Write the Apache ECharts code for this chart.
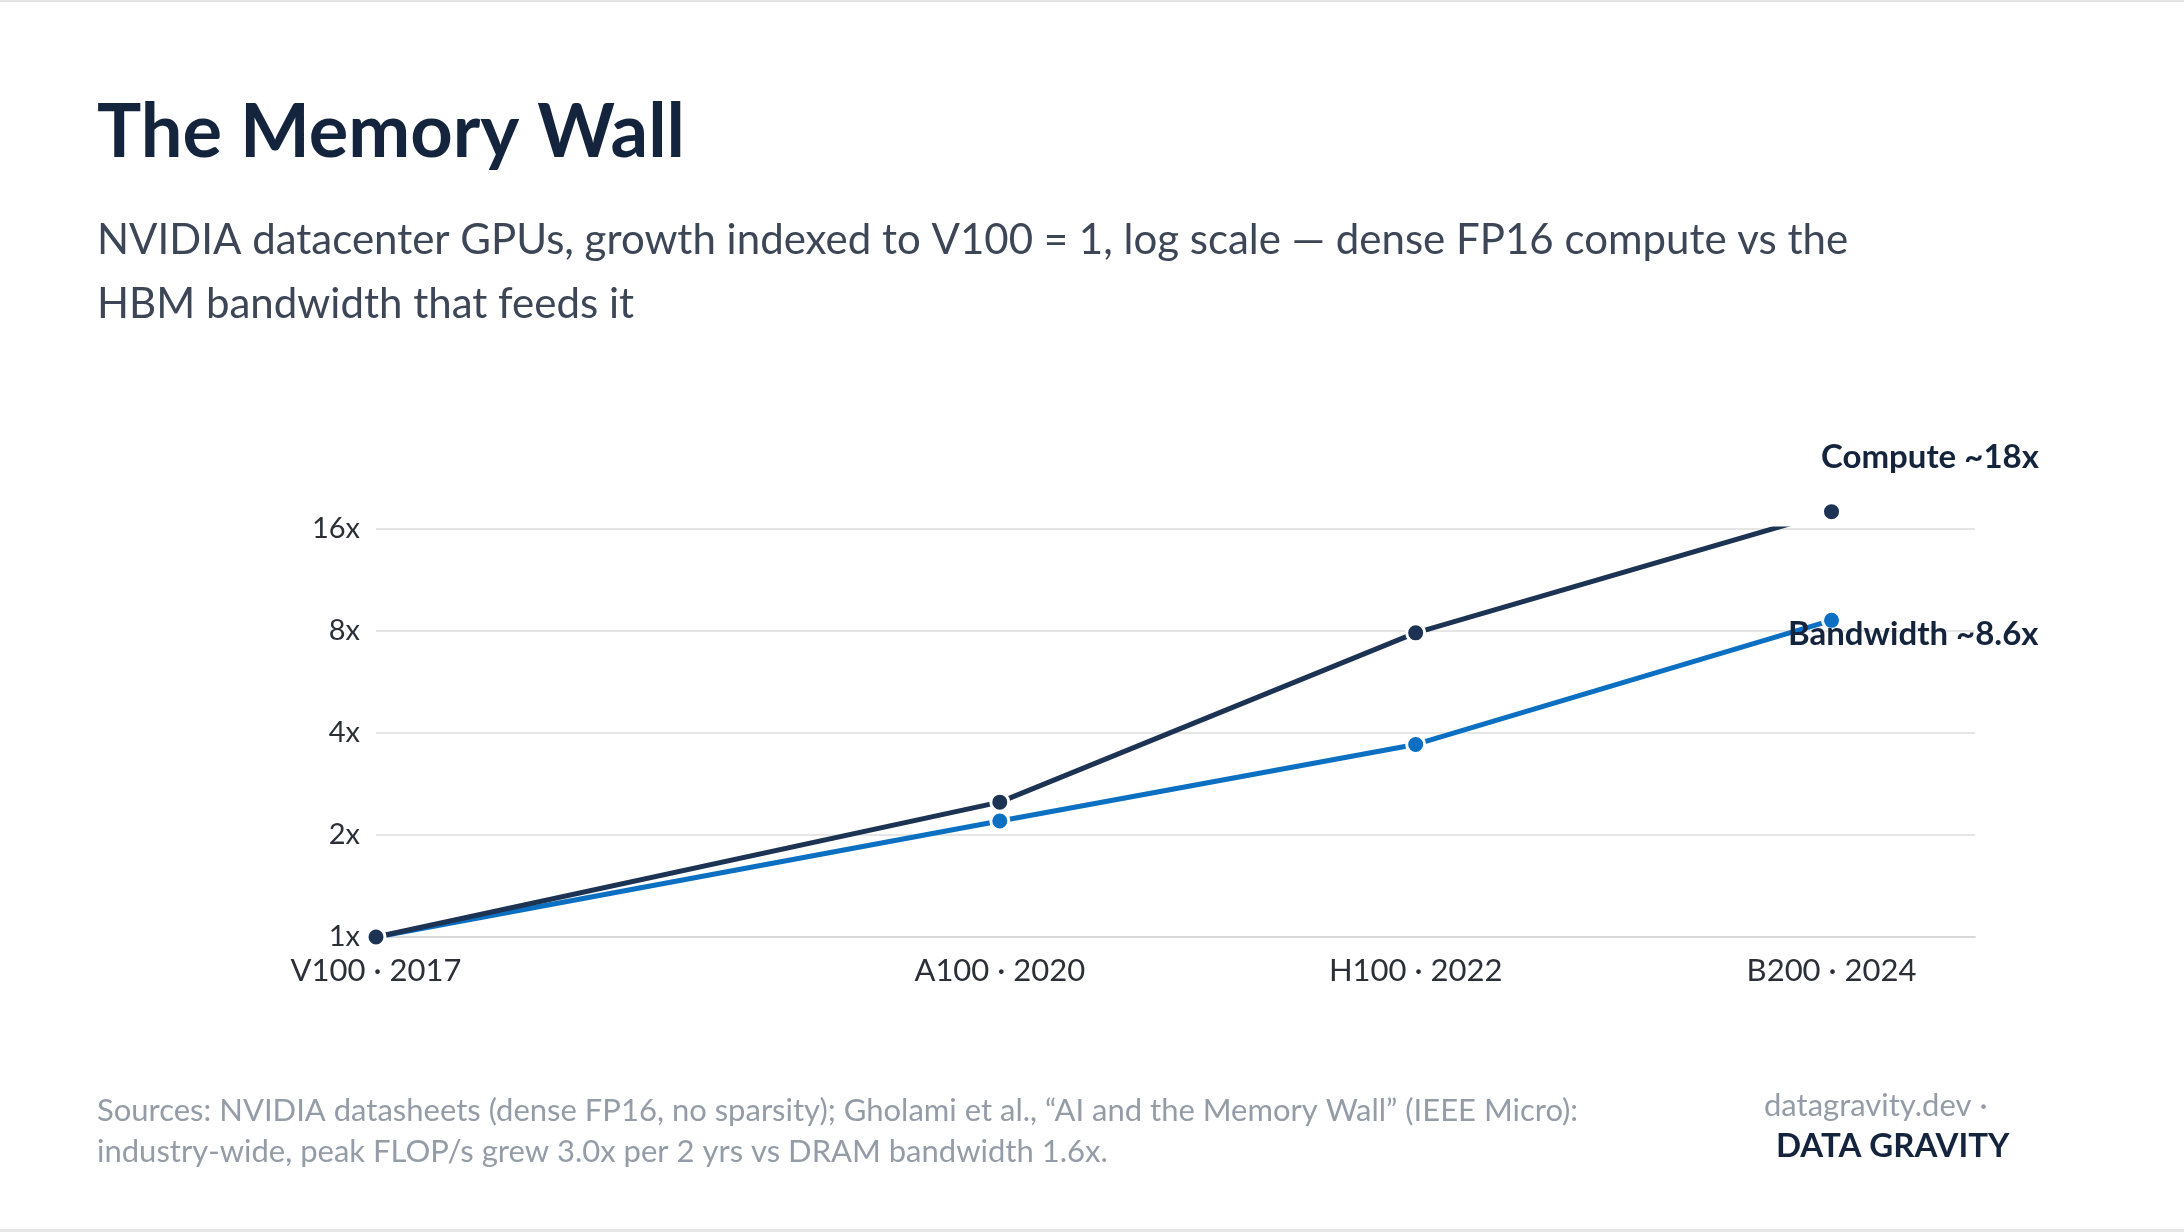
<!DOCTYPE html>
<html>
<head>
<meta charset="utf-8">
<script src="https://cdn.jsdelivr.net/npm/echarts@6/dist/echarts.min.js"></script>
<style>
  html, body { margin: 0; padding: 0; background: #fff; }
  #main { width: 2184px; height: 1232px; }
</style>
</head>
<body>
<div id="main"></div>
<script>
// years on the x axis and their GPU names
var years = [2017, 2020, 2022, 2024];
var gpus = ['V100', 'A100', 'H100', 'B200'];
// growth indexed to V100 = 1
var compute = [1, 2.5, 7.9, 18];
var bandwidth = [1, 2.2, 3.7, 8.6];
var yTicks = [1, 2, 4, 8, 16];

var navy = '#1d3354';
var blue = '#0b6fc2';
var font = 'Lato, "Noto Sans", sans-serif';

function pairs(vals) {
    return years.map(function (y, i) { return [y, vals[i]]; });
}

var myChart = echarts.init(document.getElementById('main'));
var option = {
    backgroundColor: '#fff',
    textStyle: { fontFamily: font },
    grid: { left: 376, right: 209, top: 529, bottom: 295 },
    graphic: [
        { type: 'text', left: 97, top: 96, style: { text: 'The Memory Wall', font: 'bold 74px ' + font, fill: '#15243d' } },
        { type: 'text', left: 97, top: 208, style: { text: 'NVIDIA datacenter GPUs, growth indexed to V100 = 1, log scale \u2014 dense FP16 compute vs the\nHBM bandwidth that feeds it', font: '42px ' + font, fill: '#3c4656', lineHeight: 64 } },
        { type: 'text', left: 97, top: 1090, style: { text: 'Sources: NVIDIA datasheets (dense FP16, no sparsity); Gholami et al., \u201cAI and the Memory Wall\u201d (IEEE Micro):\nindustry-wide, peak FLOP/s grew 3.0x per 2 yrs vs DRAM bandwidth 1.6x.', font: '31px ' + font, fill: '#949ca7', lineHeight: 41 } },
        { type: 'text', left: 1764, top: 1090, style: { text: 'datagravity.dev \u00b7', font: '31px ' + font, fill: '#949ca7' } },
        { type: 'text', left: 1776, top: 1130, style: { text: 'DATA GRAVITY', font: 'bold 33px ' + font, fill: '#15243d' } },
        { type: 'rect', shape: { x: 0, y: 0, width: 2184, height: 2 }, style: { fill: '#e6e6e6' } },
        { type: 'rect', shape: { x: 0, y: 1229, width: 2184, height: 3 }, style: { fill: '#e6e6e6' } }
    ],
    xAxis: {
        type: 'value', min: 2017, max: 2024.69, interval: 1,
        splitLine: { show: false },
        axisLine: { show: true, lineStyle: { color: '#d8d8d8', width: 2 } },
        axisTick: { show: false },
        axisLabel: {
            fontSize: 31, color: '#2a2f38', margin: 18, showMaxLabel: false,
            formatter: function (v) {
                var i = years.indexOf(v);
                return i < 0 ? '' : gpus[i] + ' \u00b7 ' + v;
            }
        }
    },
    yAxis: {
        type: 'log', logBase: 2, min: 1, max: 16,
        axisLine: { show: false }, axisTick: { show: false },
        splitLine: { lineStyle: { color: '#e6e6e6', width: 2 } },
        axisLabel: { fontSize: 29, color: '#2a2f38', margin: 16, formatter: function (v) { return v + 'x'; } }
    },
    series: [
        {
            name: 'Compute', type: 'line', data: pairs(compute), clip: false,
            symbol: 'circle', symbolSize: 18,
            lineStyle: { color: navy, width: 5 },
            itemStyle: { color: navy, borderColor: '#fff', borderWidth: 3 },
            label: {
                show: true, position: [0, -60], fontSize: 33, fontWeight: 'bold', color: '#15243d',
                formatter: function (p) { return p.dataIndex === years.length - 1 ? 'Compute ~18x' : ''; }
            },
            z: 3
        },
        {
            name: 'Bandwidth', type: 'line', data: pairs(bandwidth), clip: false,
            symbol: 'circle', symbolSize: 18,
            lineStyle: { color: blue, width: 5 },
            itemStyle: { color: blue, borderColor: '#fff', borderWidth: 3 },
            label: {
                show: true, position: [-33, 8], fontSize: 33, fontWeight: 'bold', color: '#15243d',
                formatter: function (p) { return p.dataIndex === years.length - 1 ? 'Bandwidth ~8.6x' : ''; }
            },
            z: 2
        }
    ]
};
myChart.setOption(option);
</script>
</body>
</html>
